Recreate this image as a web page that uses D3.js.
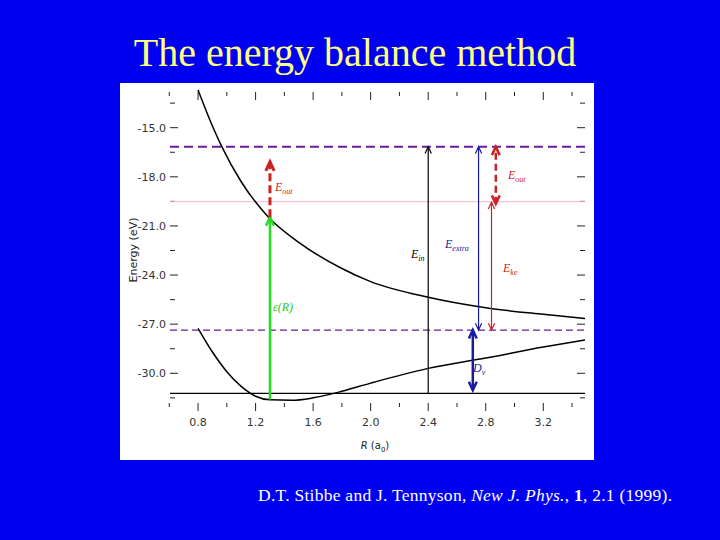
<!DOCTYPE html>
<html><head><meta charset="utf-8">
<script src="https://cdn.jsdelivr.net/npm/d3@7"></script>
<style>body{margin:0;background:#0000f0;}</style>
</head><body>
<svg id="fig" width="720" height="540"></svg>
<script>
// data
var upperR = [0.8, 0.9, 0.965, 1.1, 1.29, 1.5, 1.8, 2.0, 2.4, 2.8, 3.2, 3.49];
var upperE = [-12.7, -14.9, -16.16, -18.3, -20.47, -22.0, -23.6, -24.4, -25.36, -26.0, -26.4, -26.65];
var lowerR = [0.8, 0.9, 1.0, 1.1, 1.2, 1.3, 1.45, 1.6, 1.8, 2.0, 2.4, 2.8, 3.2, 3.49];
var lowerE = [-27.25, -28.7, -29.9, -30.8, -31.4, -31.62, -31.65, -31.5, -31.1, -30.6, -29.7, -29.07, -28.4, -27.97];
var xTicks = [0.8, 1.2, 1.6, 2.0, 2.4, 2.8, 3.2];
var yTicks = [-15, -18, -21, -24, -27, -30];
var levels = {top: -16.16, mid: -19.52, bottom: -27.36, base: -31.22};

var svg = d3.select("#fig");
svg.append("text").attr("x", 355).attr("y", 66).attr("text-anchor", "middle")
  .attr("font-family", "Liberation Serif").attr("font-size", 40).attr("fill", "#ffff80")
  .text("The energy balance method");

svg.append("rect").attr("x", 120).attr("y", 83).attr("width", 474).attr("height", 377).attr("fill", "white");

var x = d3.scaleLinear().domain([0.605, 3.49]).range([170, 585]);
var y = d3.scaleLinear().domain([-15, -30]).range([127.7, 373.3]);
var g = svg.append("g");

// ticks
var tk = function(x1, y1, x2, y2) { g.append("line").attr("x1", x1).attr("y1", y1).attr("x2", x2).attr("y2", y2).attr("stroke", "#222").attr("stroke-width", 1); };
d3.range(-13.5, -31.6, -1.5).forEach(function(v) {
  var big = Math.abs(v % 3) < 0.01;
  tk(170, y(v), big ? 178 : 175, y(v));
  tk(big ? 577 : 580, y(v), 585, y(v));
});
d3.range(0.6, 3.5, 0.2).forEach(function(v) {
  var big = Math.abs(Math.round(v * 10) % 4) < 0.5;
  tk(x(v), 92, x(v), big ? 100 : 96);
  tk(x(v), 403, x(v), big ? 411 : 407);
});
g.selectAll(".yl").data(yTicks).enter().append("text").attr("x", 166).attr("y", function(d) { return y(d) + 4; })
  .attr("text-anchor", "end").attr("font-family", "DejaVu Sans").attr("font-size", 11).attr("fill", "#333")
  .text(function(d) { return d.toFixed(1); });
g.selectAll(".xl").data(xTicks).enter().append("text").attr("x", function(d) { return x(d); }).attr("y", 426)
  .attr("text-anchor", "middle").attr("font-family", "DejaVu Sans").attr("font-size", 11).attr("fill", "#333")
  .text(function(d) { return d.toFixed(1); });
g.append("text").attr("transform", "translate(137,250) rotate(-90)").attr("text-anchor", "middle")
  .attr("font-family", "DejaVu Sans").attr("font-size", 11).attr("fill", "#222").text("Energy (eV)");
var xl = g.append("text").attr("x", 375).attr("y", 449).attr("text-anchor", "middle")
  .attr("font-family", "DejaVu Sans").attr("font-size", 10).attr("fill", "#222");
xl.append("tspan").attr("font-style", "italic").text("R");
xl.append("tspan").text(" (a");
xl.append("tspan").attr("font-size", 7).attr("dy", 3).text("0");
xl.append("tspan").attr("dy", -3).text(")");

// level lines
var hl = function(v, col, w, dash) {
  g.append("line").attr("x1", 170).attr("x2", 585).attr("y1", y(v)).attr("y2", y(v))
    .attr("stroke", col).attr("stroke-width", w).attr("stroke-dasharray", dash || null);
};
hl(levels.mid, "#ffb0d8", 1);
hl(levels.top, "#6a1b9a", 2, "9,5");
hl(levels.bottom, "#6a1b9a", 1.3, "7,4");
hl(levels.base, "#000", 1.2);

// curves
var line = d3.line().x(function(d) { return x(d[0]); }).y(function(d) { return y(d[1]); }).curve(d3.curveMonotoneX);
g.append("path").attr("d", line(d3.zip(upperR, upperE))).attr("fill", "none").attr("stroke", "#000").attr("stroke-width", 1.5);
g.append("path").attr("d", line(d3.zip(lowerR, lowerE))).attr("fill", "none").attr("stroke", "#000").attr("stroke-width", 1.5);

// arrows
function head(r, e, dir, col, w) {
  var px = x(r), py = y(e), s = 4 + w;
  g.append("path").attr("d", "M" + (px - s * 0.6) + "," + (py + dir * s * 1.3) + "L" + px + "," + py + "L" + (px + s * 0.6) + "," + (py + dir * s * 1.3))
    .attr("fill", "none").attr("stroke", col).attr("stroke-width", w);
}
function arrow(r, e1, e2, col, w, dash, both) {
  g.append("line").attr("x1", x(r)).attr("x2", x(r)).attr("y1", y(e1)).attr("y2", y(e2))
    .attr("stroke", col).attr("stroke-width", w).attr("stroke-dasharray", dash || null);
  head(r, e2, 1, col, w);
  if (both) head(r, e1, -1, col, w);
}
arrow(1.30, -31.6, -20.47, "#22dd22", 2.5);
arrow(1.30, -20.47, -17.08, "#cc2222", 3, "8,4");
arrow(2.4, levels.base, levels.top, "#000", 1.2);
arrow(2.75, levels.bottom, levels.top, "#1a1aa0", 1.2, null, true);
arrow(2.84, levels.bottom, -19.55, "#cc2222", 1.2, null, true);
arrow(2.87, -19.65, levels.top, "#cc2222", 2.5, "7,4", true);
arrow(2.71, -31.03, levels.bottom, "#1a1aa0", 2.5, null, true);

function label(px, py, col, main, sub) {
  var t = g.append("text").attr("x", px).attr("y", py).attr("font-family", "Liberation Serif")
    .attr("font-style", "italic").attr("font-size", 12).attr("fill", col);
  t.append("tspan").text(main);
  if (sub) t.append("tspan").attr("font-size", 8).attr("dy", 3).text(sub);
}
label(275, 191, "#cc2222", "E", "out");
label(411, 258, "#000", "E", "in");
label(445, 248, "#1a1aa0", "E", "extra");
label(503, 272, "#cc2222", "E", "ke");
label(508, 179, "#cc2222", "E", "out");
label(473, 372, "#1a1aa0", "D", "v");
label(273, 311, "#22cc22", "\u03b5(R)");

svg.append("text").attr("x", 258).attr("y", 501).attr("font-family", "Liberation Serif").attr("font-size", 17.5).attr("fill", "white")
  .attr("textLength", 414).attr("lengthAdjust", "spacing")
  .html('D.T. Stibbe and J. Tennyson, <tspan font-style="italic">New J. Phys.</tspan>, <tspan font-weight="bold">1</tspan>, 2.1 (1999).');
</script>
</body></html>
